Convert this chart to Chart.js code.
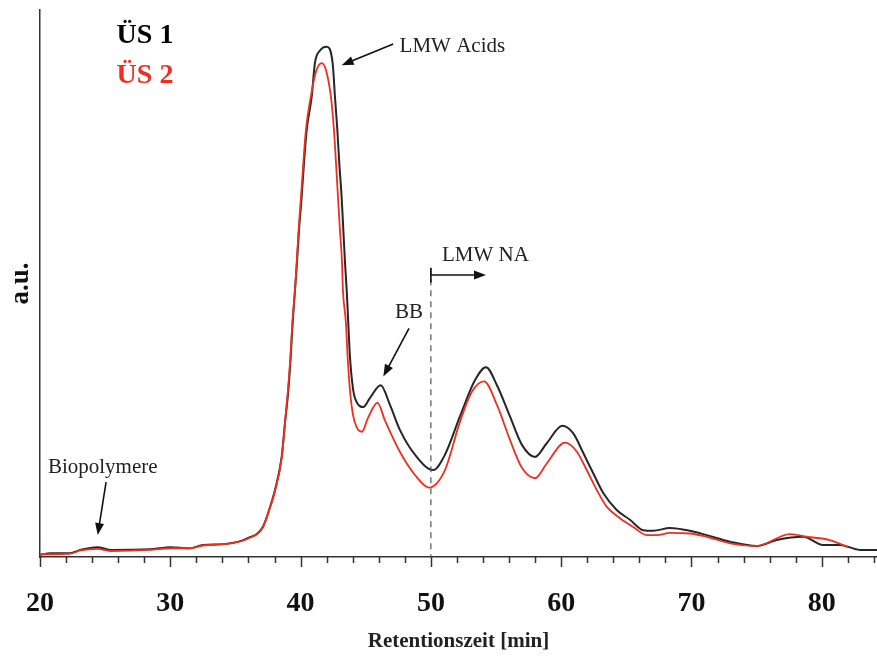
<!DOCTYPE html>
<html>
<head>
<meta charset="utf-8">
<script src="https://cdn.jsdelivr.net/npm/chart.js@4.4.1/dist/chart.umd.min.js"></script>
<style>
  body { margin: 0; background: #fff; }
  #wrap { width: 877px; height: 656px; }
</style>
</head>
<body>
<div id="wrap"><canvas id="chart" width="877" height="656"></canvas></div>
<script>
// ---- data ----
const xTickValues = [20, 30, 40, 50, 60, 70, 80];

const timeUS1 = [20.0, 20.8, 22.3, 23.1, 24.4, 25.4, 28.4, 30.0, 31.5, 32.5,
  34.3, 35.9, 37.1, 37.65, 38.04, 38.55, 38.8, 39.06, 39.24, 39.39,
  39.57, 39.72, 39.88, 40.08, 40.26, 40.47, 40.85, 41.1, 41.49, 42.0,
  42.46, 42.64, 42.82, 42.97, 43.15, 43.28, 43.41, 43.54, 43.66, 43.79,
  44.04, 44.33, 44.81, 45.33, 46.15, 46.86, 47.63, 48.78, 50.18, 51.08,
  52.23, 53.38, 54.23, 55.07, 56.07, 56.99, 57.99, 58.89, 60.08, 60.93,
  61.70, 62.46, 63.23, 64.26, 65.28, 66.30, 67.07, 68.35, 69.88, 71.17,
  72.96, 75.0, 76.54, 78.58, 80.11, 81.4, 82.93, 84.24];
const signalUS1 = [0.4, 0.7, 0.7, 1.3, 1.8, 1.3, 1.4, 1.8, 1.6, 2.2,
  2.4, 3.4, 5.5, 9.1, 12.3, 18.3, 24.5, 30.5, 36.6, 42.8,
  48.8, 53.8, 59.8, 65.8, 72.0, 78.1, 84.1, 90.3, 92.6, 93.3,
  90.3, 84.1, 78.1, 72.0, 65.8, 59.8, 53.8, 48.8, 42.8, 36.6,
  30.5, 28.2, 27.4, 29.1, 31.4, 27.8, 23.2, 18.7, 15.9, 18.7,
  25.7, 32.3, 34.7, 31.4, 25.7, 20.5, 18.3, 20.8, 24.0, 22.6,
  19.0, 15.3, 11.7, 8.6, 6.8, 4.9, 4.8, 5.3, 4.8, 4.0,
  2.8, 2.0, 3.1, 3.7, 2.2, 2.2, 1.3, 1.3];

const timeUS2 = [20.0, 20.8, 22.3, 23.1, 24.4, 25.4, 28.4, 30.0, 31.5, 32.5,
  34.3, 35.9, 37.1, 37.65, 38.04, 38.55, 38.8, 39.03, 39.22, 39.37,
  39.57, 39.7, 39.85, 40.03, 40.21, 40.41, 40.78, 41.18, 41.62, 41.95,
  42.33, 42.56, 42.72, 42.87, 43.02, 43.18, 43.25, 43.48, 43.61, 43.79,
  44.02, 44.33, 44.71, 45.17, 45.9, 46.47, 47.63, 48.78, 49.85, 51.08,
  52.23, 53.15, 54.08, 55.07, 56.07, 56.99, 57.99, 58.89, 60.29, 61.19,
  61.96, 62.72, 63.49, 64.51, 65.53, 66.56, 67.33, 68.35, 69.88, 71.17,
  72.96, 75.0, 77.56, 78.84, 80.63, 82.01];
const signalUS2 = [0.5, 0.5, 0.6, 1.2, 1.5, 1.1, 1.3, 1.6, 1.6, 2.1,
  2.4, 3.3, 5.4, 9.0, 12.1, 18.1, 24.3, 30.5, 36.6, 42.8,
  48.8, 53.8, 59.8, 65.8, 72.0, 78.1, 84.1, 88.7, 90.3, 89.0,
  84.1, 78.1, 72.0, 65.8, 59.8, 53.8, 48.8, 42.8, 36.6, 30.5,
  26.0, 23.6, 22.9, 25.4, 28.2, 25.0, 19.2, 15.0, 12.7, 15.9,
  24.7, 30.2, 32.1, 27.8, 21.4, 16.3, 14.4, 17.1, 20.9, 19.3,
  15.9, 12.3, 9.2, 7.1, 5.5, 4.0, 4.0, 4.4, 4.3, 3.7,
  2.5, 2.0, 4.2, 3.7, 3.1, 1.8];

const seriesNames = ['ÜS 1', 'ÜS 2'];
const seriesColors = ['#262626', '#ee2f1f'];

const SERIF = '"Liberation Serif", "Times New Roman", serif';

function toPoints(xs, ys) {
  return xs.map((x, i) => ({ x: x, y: ys[i] }));
}

// arrow with a filled head at the tip (coordinates in data units)
function drawArrow(ctx, sx, sy, x1, y1, x2, y2) {
  const ax = sx.getPixelForValue(x1), ay = sy.getPixelForValue(y1);
  const bx = sx.getPixelForValue(x2), by = sy.getPixelForValue(y2);
  const ang = Math.atan2(by - ay, bx - ax);
  const len = 12, half = 4.5;
  ctx.beginPath();
  ctx.moveTo(ax, ay);
  ctx.lineTo(bx - Math.cos(ang) * len * 0.8, by - Math.sin(ang) * len * 0.8);
  ctx.stroke();
  ctx.beginPath();
  ctx.moveTo(bx, by);
  ctx.lineTo(bx - Math.cos(ang) * len - Math.sin(ang) * half, by - Math.sin(ang) * len + Math.cos(ang) * half);
  ctx.lineTo(bx - Math.cos(ang) * len + Math.sin(ang) * half, by - Math.sin(ang) * len - Math.cos(ang) * half);
  ctx.closePath();
  ctx.fill();
}

/*---------------------------- ticks, labels and arrows ----------------------------*/
const decorations = {
  id: 'decorations',
  afterDraw(chart) {
    const ctx = chart.ctx;
    const sx = chart.scales.x;
    const sy = chart.scales.y;
    const bottom = chart.chartArea.bottom;
    ctx.save();

    // tick marks: major every 10 min, minor every 2 min
    ctx.strokeStyle = '#333';
    ctx.lineWidth = 1.5;
    for (let t = 20; t <= sx.max; t += 2) {
      const px = Math.round(sx.getPixelForValue(t)) + 0.5;
      ctx.beginPath();
      ctx.moveTo(px, bottom);
      ctx.lineTo(px, bottom + (t % 10 === 0 ? 10 : 6));
      ctx.stroke();
    }

    // dashed line at 50 min
    ctx.strokeStyle = '#555';
    ctx.lineWidth = 1.2;
    ctx.setLineDash([6, 5]);
    ctx.beginPath();
    ctx.moveTo(sx.getPixelForValue(50), sy.getPixelForValue(52.8));
    ctx.lineTo(sx.getPixelForValue(50), bottom);
    ctx.stroke();
    ctx.setLineDash([]);

    // series names
    ctx.font = 'bold 28px ' + SERIF;
    ctx.textBaseline = 'alphabetic';
    ctx.textAlign = 'left';
    ctx.fillStyle = '#000';
    ctx.fillText(seriesNames[0], sx.getPixelForValue(25.88), sy.getPixelForValue(94.0));
    ctx.fillStyle = seriesColors[1];
    ctx.fillText(seriesNames[1], sx.getPixelForValue(25.88), sy.getPixelForValue(86.7));

    // annotations
    ctx.font = '21px ' + SERIF;
    ctx.fillStyle = '#222';
    ctx.fillText('LMW Acids', sx.getPixelForValue(47.6), sy.getPixelForValue(92.4));
    ctx.fillText('BB', sx.getPixelForValue(47.25), sy.getPixelForValue(43.7));
    ctx.fillText('LMW NA', sx.getPixelForValue(50.85), sy.getPixelForValue(54.1));
    ctx.fillText('Biopolymere', sx.getPixelForValue(20.61), sy.getPixelForValue(15.4));

    ctx.strokeStyle = '#111';
    ctx.fillStyle = '#111';
    ctx.lineWidth = 1.6;
    drawArrow(ctx, sx, sy, 47.11, 93.8, 43.15, 89.9);
    drawArrow(ctx, sx, sy, 48.32, 41.8, 46.35, 33.0);
    drawArrow(ctx, sx, sy, 25.07, 13.7, 24.43, 4.0);
    drawArrow(ctx, sx, sy, 50, 51.55, 54.23, 51.55);

    // bracket bar at the start of LMW NA
    ctx.beginPath();
    ctx.moveTo(sx.getPixelForValue(50), sy.getPixelForValue(52.9));
    ctx.lineTo(sx.getPixelForValue(50), sy.getPixelForValue(50.2));
    ctx.stroke();

    ctx.restore();
  }
};

const config = {
  type: 'line',
  data: {
    datasets: [{
      label: seriesNames[0],
      data: toPoints(timeUS1, signalUS1),
      borderColor: seriesColors[0],
      borderWidth: 2,
      pointRadius: 0,
      cubicInterpolationMode: 'monotone',
      order: 2
    }, {
      label: seriesNames[1],
      data: toPoints(timeUS2, signalUS2),
      borderColor: seriesColors[1],
      borderWidth: 1.8,
      pointRadius: 0,
      cubicInterpolationMode: 'monotone',
      order: 1
    }]
  },
  options: {
    responsive: false,
    animation: false,
    layout: { padding: { top: 10, right: 0, left: 0, bottom: 0 } },
    plugins: {
      legend: { display: false },
      tooltip: { enabled: false }
    },
    scales: {
      x: {
        type: 'linear',
        min: 20,
        max: 84.24,
        afterBuildTicks: (scale) => {
          scale.ticks = xTickValues.map(v => ({ value: v }));
        },
        afterFit: (scale) => {
          scale.height = 99;
          scale.paddingLeft = 0;
          scale.paddingRight = 0;
        },
        grid: { display: false, drawTicks: false },
        border: { display: true, color: '#333', width: 1.5 },
        ticks: {
          padding: 30,
          color: '#111',
          font: { family: SERIF, size: 28, weight: 'bold' }
        },
        title: {
          display: true,
          text: 'Retentionszeit [min]',
          color: '#222',
          font: { family: SERIF, size: 21, weight: 'bold', lineHeight: '20px' }
        }
      },
      y: {
        min: 0,
        max: 100,
        afterFit: (scale) => { scale.width = 40; },
        grid: { display: false, drawTicks: false },
        border: { display: true, color: '#333', width: 1.5 },
        ticks: { display: false },
        title: {
          display: true,
          text: 'a.u.',
          color: '#111',
          font: { family: SERIF, size: 27, weight: 'bold', lineHeight: '34px' }
        }
      }
    }
  },
  plugins: [decorations]
};

new Chart(document.getElementById('chart'), config);
</script>
</body>
</html>
